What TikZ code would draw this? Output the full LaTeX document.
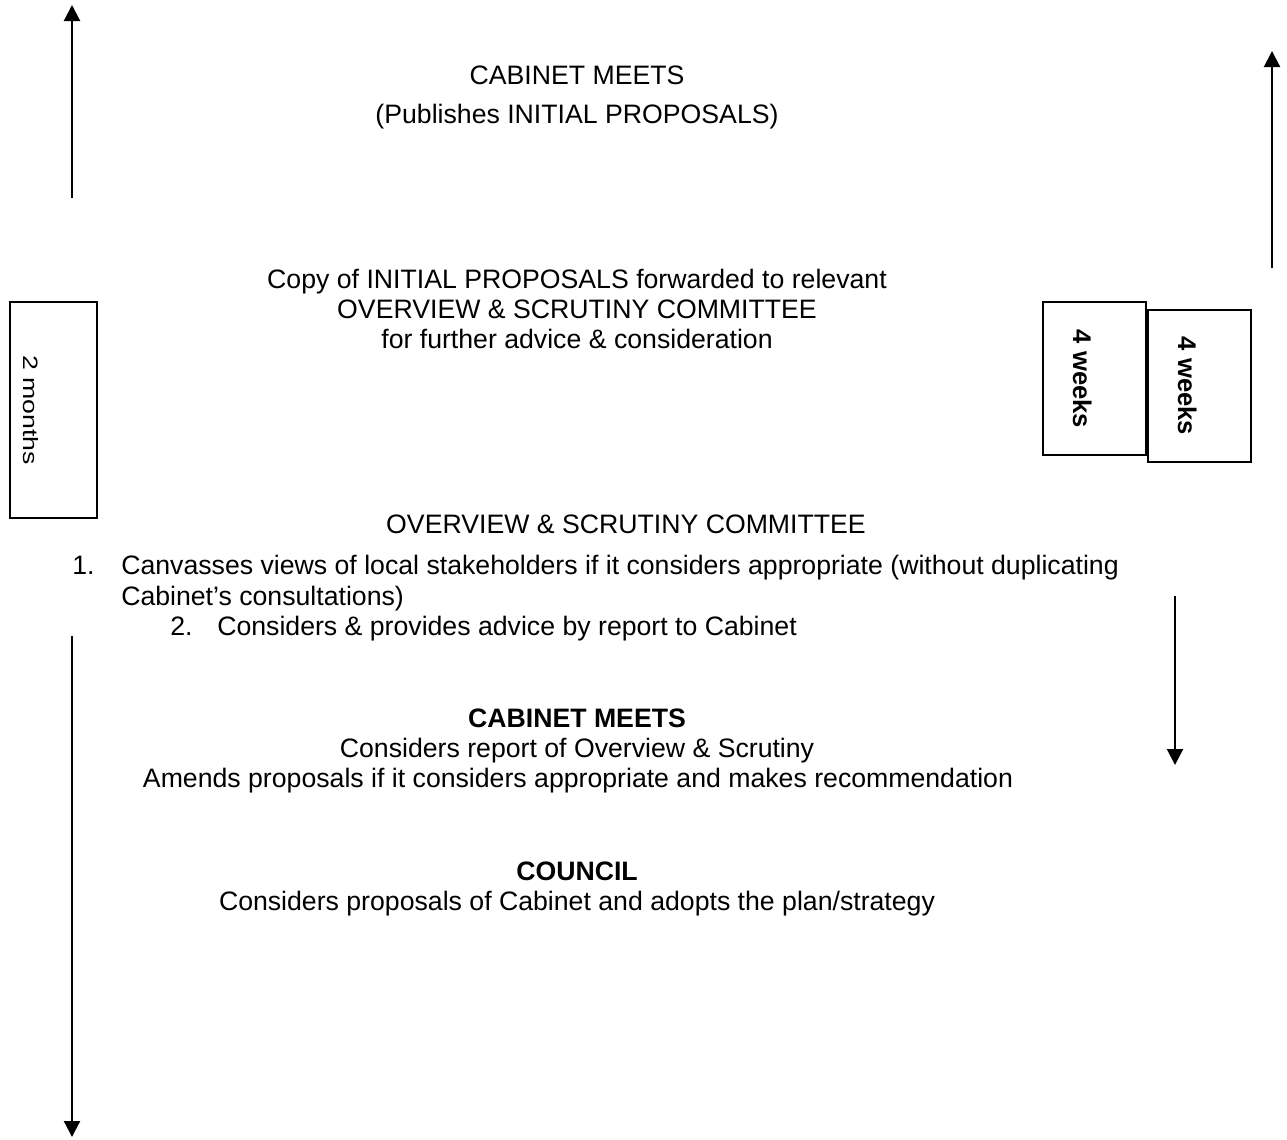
\documentclass[tikz,border=0pt]{standalone}
\usepackage{fontspec}
\setmainfont{Liberation Sans}
\usetikzlibrary{arrows.meta}
\begin{document}
\begin{tikzpicture}[x=0.75pt,y=-0.75pt,
  txt/.style={inner sep=0pt,font=\fontsize{20}{24}\selectfont},
  btxt/.style={txt,font=\fontsize{20}{24}\selectfont\bfseries},
  box/.style={draw,line width=1.6pt,inner sep=0pt},
  arr/.style={line width=1.6pt,-{Triangle[length=12pt,width=12pt]}},
  rot/.style={inner sep=0pt,rotate=-90,anchor=base}]
\useasboundingbox (0,0) rectangle (1287,1139);
% arrows
\coordinate (lt1) at (72,198); \coordinate (lt2) at (72,5);
\draw[arr] (lt1) -- (lt2);
\coordinate (rt1) at (1272,268); \coordinate (rt2) at (1272,51);
\draw[arr] (rt1) -- (rt2);
\coordinate (lb1) at (72,636); \coordinate (lb2) at (72,1137);
\draw[arr] (lb1) -- (lb2);
\coordinate (rm1) at (1175,596); \coordinate (rm2) at (1175,765);
\draw[arr] (rm1) -- (rm2);
% boxes
\node[box,minimum width=87*0.75pt,minimum height=216*0.75pt] (months) at (53.5,410) {};
\node[rot,font=\fontsize{20}{24}\selectfont] (monthstxt) at (23,410) {\scalebox{1}[0.78]{2 months}};
\node[box,minimum width=103*0.75pt,minimum height=153*0.75pt] (wk1) at (1094.5,378.5) {};
\node[rot,font=\fontsize{19.2}{24}\selectfont\bfseries] (wk1txt) at (1073,379) {4 weeks};
\node[box,minimum width=103*0.75pt,minimum height=152*0.75pt] (wk2) at (1199.5,386) {};
\node[rot,font=\fontsize{19.2}{24}\selectfont\bfseries] (wk2txt) at (1178,386) {4 weeks};
% texts
\node[txt,anchor=base] (c1) at (577,84) {CABINET MEETS};
\node[txt,anchor=base] (c2) at (577,123) {(Publishes INITIAL PROPOSALS)};
\node[txt,anchor=base] (p1) at (577,288) {Copy of INITIAL PROPOSALS forwarded to relevant};
\node[txt,anchor=base] (p2) at (577,318) {OVERVIEW \& SCRUTINY COMMITTEE};
\node[txt,anchor=base] (p3) at (577,348) {for further advice \& consideration};
\node[txt,anchor=base] (o1) at (626,533) {OVERVIEW \& SCRUTINY COMMITTEE};
\node[txt,anchor=base west] (n1) at (72,574) {1.};
\node[txt,anchor=base west] (l1) at (121,574) {Canvasses views of local stakeholders if it considers appropriate (without duplicating};
\node[txt,anchor=base west] (l2) at (121,605) {Cabinet’s consultations)};
\node[txt,anchor=base west] (n2) at (170,635) {2.};
\node[txt,anchor=base west] (l3) at (217,635) {Considers \& provides advice by report to Cabinet};
\node[btxt,anchor=base] (k1) at (577,727) {CABINET MEETS};
\node[txt,anchor=base] (k2) at (577,757) {Considers report of Overview \& Scrutiny};
\node[txt,anchor=base] (k3) at (578,787) {Amends proposals if it considers appropriate and makes recommendation};
\node[btxt,anchor=base] (u1) at (577,880) {COUNCIL};
\node[txt,anchor=base] (u2) at (577,910) {Considers proposals of Cabinet and adopts the plan/strategy};
\end{tikzpicture}
\end{document}
